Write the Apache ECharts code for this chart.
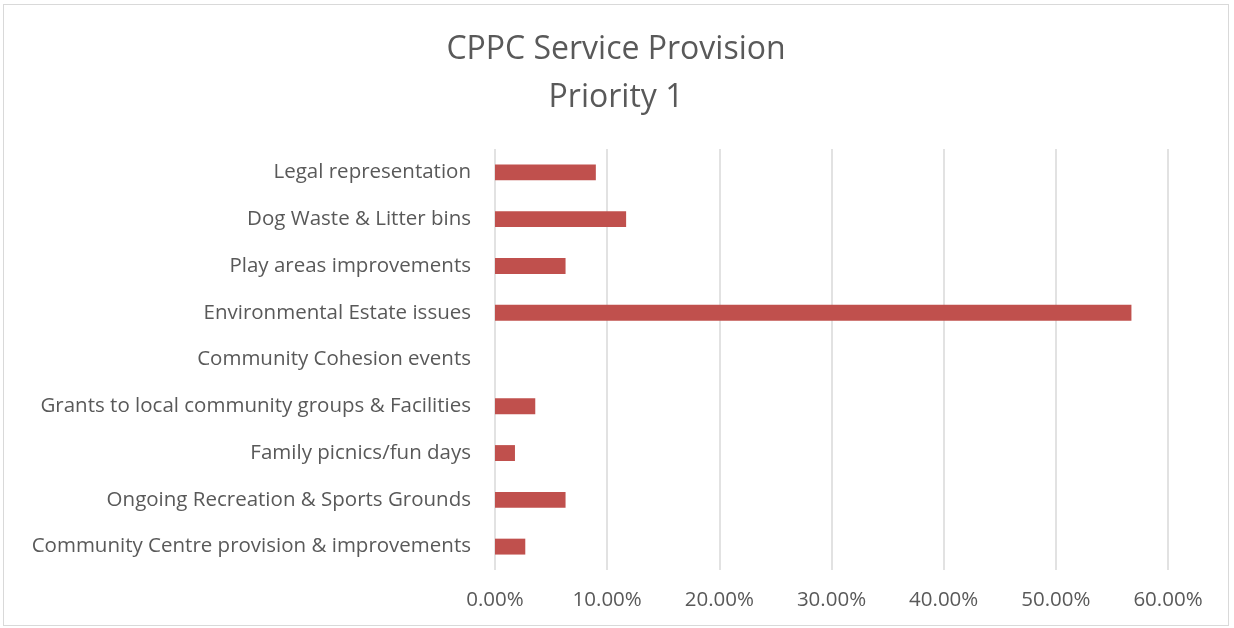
<!DOCTYPE html>
<html>
<head>
<meta charset="utf-8">
<script src="https://cdn.jsdelivr.net/npm/echarts@6/dist/echarts.min.js"></script>
<style>
  html, body { margin: 0; padding: 0; background: #fff; }
  #chart { position: absolute; left: 3px; top: 4px; width: 1226px; height: 622px; border: 1px solid #d9d9d9; box-sizing: border-box; }
</style>
</head>
<body>
<div id="chart"></div>
<script>
// categories listed bottom to top, as the category axis draws them
const categories = [
  'Community Centre provision & improvements',
  'Ongoing Recreation & Sports Grounds',
  'Family picnics/fun days',
  'Grants to local community groups & Facilities',
  'Community Cohesion events',
  'Environmental Estate issues',
  'Play areas improvements',
  'Dog Waste & Litter bins',
  'Legal representation'
]
const priority1 = [2.70, 6.29, 1.78, 3.59, 0, 56.74, 6.29, 11.69, 8.99]
const tickMax = 60
const tickStep = 10

const font = '"Open Sans", "Noto Sans", sans-serif'

const myChart = echarts.init(document.getElementById('chart'), null, { renderer: 'canvas' })

const option = {
  animation: false,
  title: {
    text: 'CPPC Service Provision\nPriority 1',
    left: 'center',
    top: 16,
    textStyle: {
      fontFamily: font,
      fontWeight: 'normal',
      fontSize: 32,
      lineHeight: 48,
      color: '#595959'
    }
  },
  grid: {
    left: 491,
    right: 60,
    top: 144,
    bottom: 55,
    containLabel: false
  },
  xAxis: {
    type: 'value',
    min: 0,
    max: tickMax,
    interval: tickStep,
    axisLine: { show: false },
    axisTick: { show: false },
    splitLine: { lineStyle: { color: '#d9d9d9', width: 1.5 } },
    axisLabel: {
      formatter: v => v.toFixed(2) + '%',
      fontFamily: font,
      fontSize: 20.5,
      color: '#595959',
      margin: 20
    }
  },
  yAxis: {
    type: 'category',
    data: categories,
    axisLine: { show: false },
    axisTick: { show: false },
    axisLabel: {
      fontFamily: font,
      fontSize: 20.5,
      color: '#595959',
      margin: 24
    }
  },
  series: [
    {
      name: 'Priority 1',
      type: 'bar',
      data: priority1,
      barWidth: '34%',
      itemStyle: { color: '#c0504d' }
    }
  ]
}

myChart.setOption(option)
window.addEventListener('resize', myChart.resize)
</script>
</body>
</html>
